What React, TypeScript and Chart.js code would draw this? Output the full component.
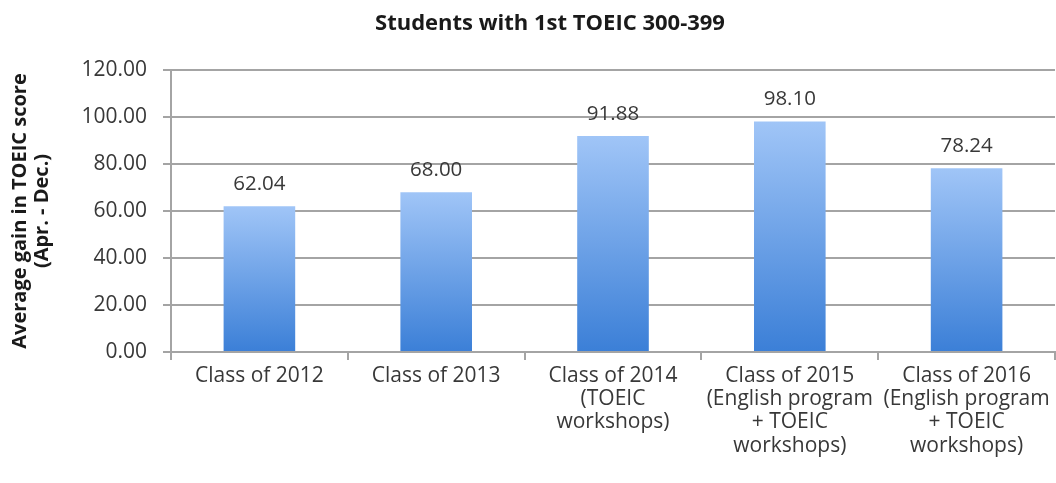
import React, { useEffect, useRef } from "react";
import { Chart, registerables } from "chart.js";

Chart.register(...registerables);

const chartTitle = "Students with 1st TOEIC 300-399";
const categories: string[][] = [
  ["Class of 2012"],
  ["Class of 2013"],
  ["Class of 2014", "(TOEIC", "workshops)"],
  ["Class of 2015", "(English program", "+ TOEIC", "workshops)"],
  ["Class of 2016", "(English program", "+ TOEIC", "workshops)"],
];
const gains = [62.04, 68.0, 91.88, 98.1, 78.24];
const yAxisTitle = ["Average gain in TOEIC score", "(Apr. - Dec.)"];
const yMin = 0;
const yMax = 120;
const yStep = 20;

const FONT = "'Open Sans', Lato, sans-serif";
const TEXT = "#383838";
const GRID = "#a4a4a4";

export default function App() {
  const ref = useRef<HTMLCanvasElement | null>(null);

  useEffect(() => {
    document.body.style.margin = "0";
    const canvas = ref.current;
    if (!canvas) return;

    const titlePlugin = {
      id: "customTitle",
      afterDraw(chart: any) {
        const c = chart.ctx;
        c.save();
        c.font = `bold 22px ${FONT}`;
        c.fillStyle = "#1a1a1a";
        c.textAlign = "center";
        c.textBaseline = "middle";
        c.fillText(chartTitle, 550, 24);
        c.restore();
      },
    };

    const labelPlugin = {
      id: "valueLabels",
      afterDatasetsDraw(chart: any) {
        const c = chart.ctx;
        const meta = chart.getDatasetMeta(0);
        c.save();
        c.font = `20.5px ${FONT}`;
        c.fillStyle = TEXT;
        c.textAlign = "center";
        c.textBaseline = "middle";
        meta.data.forEach((bar: any, i: number) => {
          c.fillText(gains[i].toFixed(2), bar.x, bar.y - 22);
        });
        c.restore();
      },
    };

    const chart = new Chart(canvas, {
      type: "bar",
      data: {
        labels: categories,
        datasets: [
          {
            data: gains,
            barPercentage: 0.9,
            categoryPercentage: 0.45,
            borderWidth: 0,
            backgroundColor: (ctx: any) => {
              const ch = ctx.chart;
              const y = ch.scales?.y;
              if (!y || ctx.raw === undefined) return "#5b9be8";
              const top = y.getPixelForValue(ctx.raw);
              const bottom = y.getPixelForValue(0);
              if (!isFinite(top) || !isFinite(bottom) || top === bottom) return "#5b9be8";
              const g = ch.ctx.createLinearGradient(0, top, 0, bottom);
              g.addColorStop(0, "#a0c5f7");
              g.addColorStop(1, "#3b7fd7");
              return g;
            },
          },
        ],
      },
      options: {
        animation: false,
        responsive: false,
        maintainAspectRatio: false,
        layout: { padding: { top: 70, right: 1, left: 0, bottom: 0 } },
        plugins: {
          legend: { display: false },
          title: { display: false },
          tooltip: { enabled: false },
        },
        scales: {
          x: {
            grid: {
              offset: true,
              drawOnChartArea: false,
              drawTicks: true,
              tickLength: 8,
              color: GRID,
              lineWidth: 2,
            },
            border: { color: GRID, width: 2 },
            ticks: {
              color: TEXT,
              padding: 4,
              maxRotation: 0,
              autoSkip: false,
              font: { family: FONT, size: 21, lineHeight: 1.11 },
            },
            afterFit(scale: any) {
              scale.height = 131;
            },
          },
          y: {
            min: yMin,
            max: yMax,
            ticks: {
              stepSize: yStep,
              color: TEXT,
              padding: 16,
              font: { family: FONT, size: 21 },
              callback: (v: any) => Number(v).toFixed(2),
            },
            grid: {
              color: GRID,
              lineWidth: 2,
              tickLength: 8,
              drawTicks: true,
            },
            border: { color: GRID, width: 2 },
            title: {
              display: true,
              text: yAxisTitle,
              color: "#1a1a1a",
              font: { family: FONT, size: 20, weight: "bold", lineHeight: 1.1 },
              padding: { top: 9, bottom: 0 },
            },
            afterFit(scale: any) {
              scale.width = 171;
            },
          },
        },
      },
      plugins: [titlePlugin, labelPlugin],
    } as any);

    return () => chart.destroy();
  }, []);

  return (
    <div style={{ width: 1056, height: 483, background: "#ffffff" }}>
      <canvas ref={ref} width={1056} height={483} style={{ display: "block" }} />
    </div>
  );
}
